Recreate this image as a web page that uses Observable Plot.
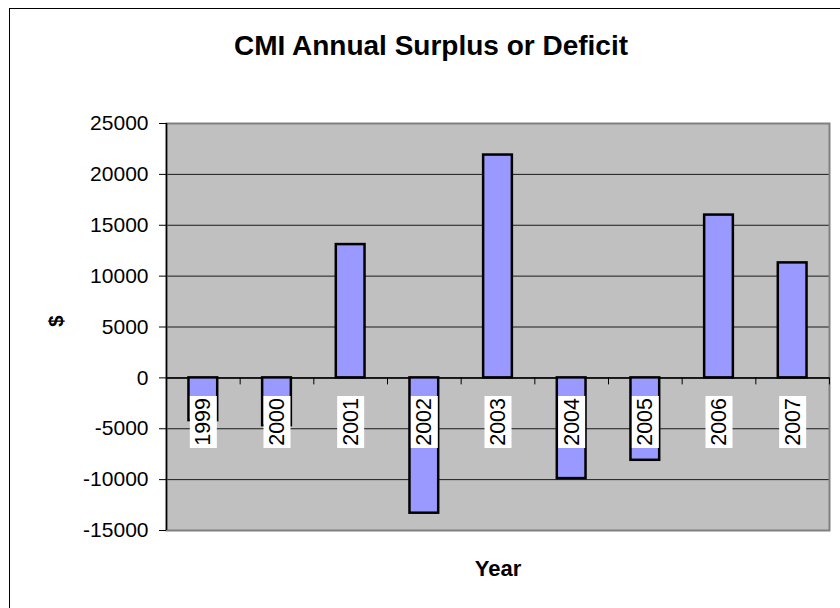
<!DOCTYPE html>
<html><head><meta charset="utf-8">
<script src="https://cdn.jsdelivr.net/npm/d3@7"></script>
<script src="https://cdn.jsdelivr.net/npm/@observablehq/plot@0.6"></script>
<style>
body{margin:0;background:#fff;overflow:hidden}
#wrap{position:relative;width:840px;height:608px;overflow:hidden;background:#fff}
#border{position:absolute;left:9px;top:8px;width:900px;height:700px;border:1.5px solid #000;box-sizing:border-box}
#chart{position:absolute;left:0;top:0}
</style></head><body>
<div id="wrap"><div id="border"></div><div id="chart"></div></div>
<script>
const title = "CMI Annual Surplus or Deficit";
const xLabel = "Year";
const yLabel = "$";
const years = ["1999", "2000", "2001", "2002", "2003", "2004", "2005", "2006", "2007"];
const values = [-4200, -4700, 13100, -13300, 21900, -9900, -8100, 16000, 11300];
const yTicks = [-15000, -10000, -5000, 0, 5000, 10000, 15000, 20000, 25000];

const data = years.map((year, i) => ({year, value: values[i], i}));
const boundaries = d3.range(1, years.length + 1);
const half = 0.195;
const font = "'Liberation Sans', Arial, Helvetica, sans-serif";
const rectSymbol = {draw(context) { context.rect(-13.5, -26, 27, 52); }};

const chart = Plot.plot({
  width: 840, height: 608,
  marginLeft: 166, marginRight: 11, marginTop: 123, marginBottom: 78,
  style: {fontFamily: font, color: "#000", background: "transparent", overflow: "visible"},
  x: {domain: [0, years.length], axis: null},
  y: {domain: [-15000, 25000], axis: null},
  marks: [
    Plot.frame({fill: "#C0C0C0"}),
    Plot.gridY(yTicks, {stroke: "#1a1a1a", strokeOpacity: 1, strokeWidth: 1}),
    Plot.frame({stroke: "#808080", strokeWidth: 2}),
    Plot.ruleX([0], {stroke: "#000", strokeWidth: 1.5}),
    Plot.axisY(yTicks, {tickSize: 7, tickPadding: 11, fontSize: 21, label: null, stroke: "#000", tickFormat: d => String(d)}),
    Plot.ruleY([0], {stroke: "#000", strokeWidth: 1.5}),
    Plot.ruleX(boundaries, {x: d => d, y1: 0, y2: 0, insetBottom: -7, stroke: "#000", strokeWidth: 1}),
    Plot.rectY(data, {x1: d => d.i + 0.5 - half, x2: d => d.i + 0.5 + half, y1: 0, y2: "value", fill: "#9999FF", stroke: "#000", strokeWidth: 2.5}),
    Plot.dot(data, {x: d => d.i + 0.5, y: 0, dy: 44, symbol: rectSymbol, r: 5, fill: "#fff", stroke: "none"}),
    Plot.text(data, {x: d => d.i + 0.5, y: 0, dy: 44, text: "year", rotate: -90, fontSize: 21.5, fill: "#000", textAnchor: "middle", lineAnchor: "middle"}),
    Plot.text([yLabel], {text: d => d, frameAnchor: "left", dx: -110, rotate: -90, fontSize: 21, fontWeight: "bold", fill: "#000", lineAnchor: "middle"}),
    Plot.text([title], {text: d => d, frameAnchor: "top", dx: -67, dy: -77, fontSize: 28, fontWeight: "bold", fill: "#000", lineAnchor: "middle"}),
    Plot.text([xLabel], {text: d => d, frameAnchor: "bottom", dy: 38, fontSize: 22, fontWeight: "bold", fill: "#000", lineAnchor: "middle"})
  ]
});
document.getElementById("chart").appendChild(chart);
</script>
</body></html>
